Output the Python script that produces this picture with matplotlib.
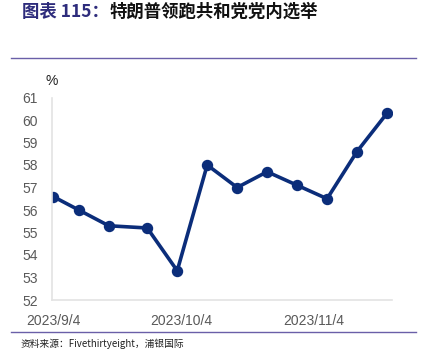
import matplotlib
matplotlib.use("Agg")
import matplotlib.pyplot as plt
from matplotlib.lines import Line2D
import datetime as dt

plt.rcParams['font.family'] = ['Liberation Sans', 'Noto Sans CJK SC', 'DejaVu Sans']

# Data
dates = ["2023-09-04", "2023-09-10", "2023-09-17", "2023-09-26", "2023-10-03",
         "2023-10-10", "2023-10-17", "2023-10-24", "2023-10-31", "2023-11-07",
         "2023-11-14", "2023-11-21"]
values = [56.6, 56.0, 55.3, 55.2, 53.3, 58.0, 57.0, 57.7, 57.1, 56.5, 58.6, 60.3]
xtick_dates = ["2023-09-04", "2023-10-04", "2023-11-04"]
xtick_labels = ["2023/9/4", "2023/10/4", "2023/11/4"]
yticks = list(range(52, 62))

title_prefix = "图表 115："
title_main = "特朗普领跑共和党党内选举"
source = "资料来源：Fivethirtyeight，浦银国际"
unit = "%"

W, H = 426, 364
fig = plt.figure(figsize=(W / 100, H / 100), dpi=100)

x = [dt.datetime.strptime(d, "%Y-%m-%d") for d in dates]
ax = fig.add_axes([52 / W, (H - 300) / H, (392 - 52) / W, (300 - 97.5) / H])
ax.plot(x, values, color="#0B2D7A", lw=2.6, marker="o", ms=7.2,
        solid_joinstyle="round", solid_capstyle="round")
ax.set_ylim(52, 61)
ax.set_yticks(yticks)
ax.set_xlim(dt.datetime(2023, 9, 3, 18), dt.datetime(2023, 11, 22, 4))
ax.set_xticks([dt.datetime.strptime(d, "%Y-%m-%d") for d in xtick_dates])
ax.set_xticklabels(xtick_labels)
for s in ["top", "right"]:
    ax.spines[s].set_visible(False)
for s in ["left", "bottom"]:
    ax.spines[s].set_color("#E3E3E3")
    ax.spines[s].set_linewidth(1.2)
ax.tick_params(axis="both", length=0, labelsize=10, colors="#595959")
ax.tick_params(axis="x", pad=10)
ax.tick_params(axis="y", pad=10)

fig.text(52 / W, (H - 81) / H, unit, fontsize=10, color="#222222",
         ha="center", va="center")

# Title
fig.text(22 / W, (H - 12) / H, title_prefix, fontsize=12.5, fontweight="bold",
         color="#2E2C7C", ha="left", va="center",
         family=["Noto Sans CJK SC", "DejaVu Sans"])
fig.text(110 / W, (H - 12) / H, title_main, fontsize=12.5, fontweight="bold",
         color="#111111", ha="left", va="center",
         family=["Noto Sans CJK SC", "DejaVu Sans"])

fig.add_artist(Line2D([11 / W, 416 / W], [(H - 58.3) / H] * 2, color="#6A5FA8", lw=1.0))
fig.add_artist(Line2D([11 / W, 416 / W], [(H - 332.3) / H] * 2, color="#6A5FA8", lw=1.0))

fig.text(21 / W, (H - 343.5) / H, source, fontsize=7, color="#222222",
         ha="left", va="center", family=["Noto Sans CJK SC", "DejaVu Sans"])

fig.savefig("out.png", dpi=100)
